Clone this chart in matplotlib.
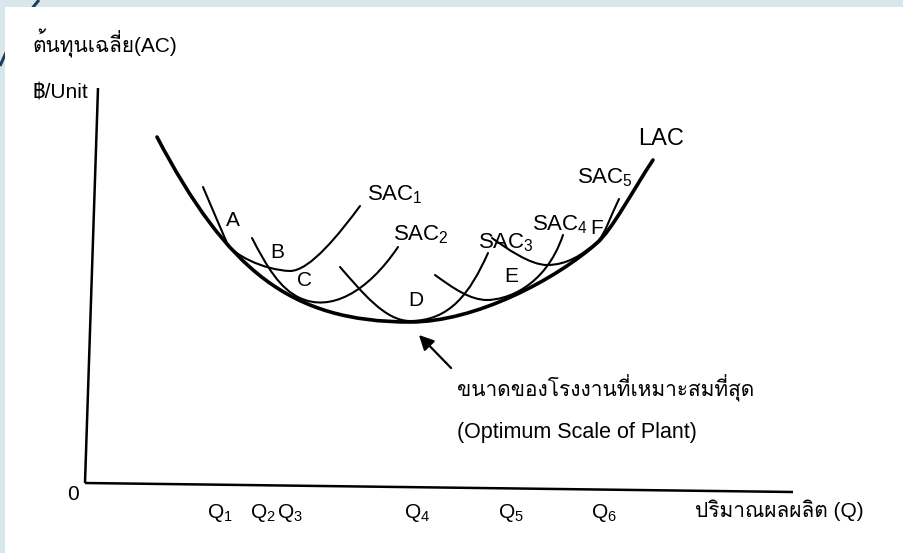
import matplotlib
matplotlib.use('Agg')
import matplotlib.pyplot as plt
from matplotlib.path import Path
from matplotlib.patches import PathPatch, Rectangle
from matplotlib.transforms import Affine2D
from matplotlib import font_manager

installed = {fe.name for fe in font_manager.fontManager.ttflist}
THAI = next((f for f in ['Loma', 'Sarabun', 'Noto Sans Thai Looped'] if f in installed), 'DejaVu Sans')
FAM = ['Liberation Sans', THAI, 'DejaVu Sans']
plt.rcParams['font.family'] = FAM
plt.rcParams['mathtext.fontset'] = 'custom'
plt.rcParams['mathtext.rm'] = 'Liberation Sans'
plt.rcParams['mathtext.it'] = 'Liberation Sans'

# ---------------- data (quantity, cost) : cubic Bezier vertices
lac_q = [72, 142, 205, 325, 390, 470, 512, 527, 548, 568]
lac_c = [346, 213, 161, 161, 161, 203, 240, 253, 293, 323]

sac1_q = [118, 126, 136, 142, 147, 178, 205, 225, 255, 275]
sac1_c = [296, 277, 254, 240, 229, 213, 212, 212, 250, 277]

sac2_q = [167, 182, 195, 215, 245, 282, 313]
sac2_c = [245, 216, 194, 185, 171, 190, 236]

sac3_q = [255, 277, 300, 325, 365, 385, 403]
sac3_c = [216, 191, 162, 162, 162, 190, 230]

sac4_q = [350, 368, 385, 402, 420, 460, 478]
sac4_c = [208, 195, 183, 183, 183, 195, 248]

sac5_q = [407, 421, 445, 462, 482, 497, 512, 520, 526, 534]
sac5_c = [245, 235, 218, 218, 218, 228, 241, 248, 268, 284]

curve_names = ['SAC$_1$', 'SAC$_2$', 'SAC$_3$', 'SAC$_4$', 'SAC$_5$']
curve_label_q = [282, 308, 393, 447, 492]
curve_label_c = [283, 243, 235, 253, 300]

point_names = ['A', 'B', 'C', 'D', 'E', 'F']
point_q = [148, 192, 220, 331, 426, 512]
point_c = [263, 231, 203, 183, 207, 255]

q_tick_labels = ['Q$_1$', 'Q$_2$', 'Q$_3$', 'Q$_4$', 'Q$_5$', 'Q$_6$']
q_tick_pos = [135, 178, 205, 332, 426, 519]

axis_q_max = 708
axis_c_max = 395

# ---------------- figure
fig = plt.figure(figsize=(9.04, 5.53), dpi=100)
fig.patch.set_facecolor('#d9e6ec')
deco = Path([(39 / 904, 1), (18 / 904, 1 - 24 / 553), (0, 1 - 66 / 553)],
            [Path.MOVETO, Path.CURVE3, Path.CURVE3])
fig.add_artist(PathPatch(deco, transform=fig.transFigure, facecolor='none',
                         edgecolor='#1d3d5e', lw=2.2, zorder=-3))
fig.add_artist(Rectangle((5 / 904, 0), 1, 1 - 7 / 553, transform=fig.transFigure,
                         facecolor='white', edgecolor='none', zorder=-2))

ax = fig.add_axes([0, 0, 1, 1])
ax.patch.set_alpha(0)
ax.set_xlim(-85, 819)
ax.set_ylim(-70, 483)
for s in ax.spines.values():
    s.set_visible(False)
ax.set_xticks([])
ax.set_yticks([])

# slight scan tilt of the printed axes
tilt = Affine2D([[1, 13 / 395, 0], [-9 / 708, 1, 0], [0, 0, 1]]) + ax.transData
ax.plot([0, axis_q_max], [0, 0], color='black', lw=1.8, transform=tilt, solid_capstyle='butt')
ax.plot([0, 0], [0, axis_c_max], color='black', lw=1.8, transform=tilt, solid_capstyle='butt')


def bez(q, c, lw):
    verts = list(zip(q, c))
    codes = [Path.MOVETO] + [Path.CURVE4] * (len(verts) - 1)
    ax.add_patch(PathPatch(Path(verts, codes), facecolor='none', edgecolor='black',
                           lw=lw, capstyle='round', joinstyle='round'))


bez(lac_q, lac_c, 2.6)
for q, c in [(sac1_q, sac1_c), (sac2_q, sac2_c), (sac3_q, sac3_c), (sac4_q, sac4_c), (sac5_q, sac5_c)]:
    bez(q, c, 1.5)

for name, q, c in zip(curve_names, curve_label_q, curve_label_c):
    ax.text(q, c, name, fontsize=16, ha='left', va='baseline')
ax.text(553, 338, 'LAC', fontsize=17, ha='left', va='baseline')

for name, q, c in zip(point_names, point_q, point_c):
    ax.text(q, c, name, fontsize=15, ha='center', va='center')

for lab, q in zip(q_tick_labels, q_tick_pos):
    ax.text(q, -30, lab, fontsize=15, ha='center', va='center')

ax.text(-12, -12, '0', fontsize=15, ha='center', va='center')
ax.text(-52, 430, 'ต้นทุนเฉลี่ย(AC)', fontsize=15, ha='left', va='baseline')
ax.text(-52, 385, '฿/Unit', fontsize=15, ha='left', va='baseline')
ax.text(610, -27, 'ปริมาณผลผลิต (Q)', fontsize=15, ha='left', va='center')

ax.annotate('', xy=(332, 150), xytext=(368, 113),
            arrowprops=dict(arrowstyle='-|>', color='black', lw=1.6, mutation_scale=22))
ax.text(372, 86, 'ขนาดของโรงงานที่เหมาะสมที่สุด', fontsize=15, ha='left', va='baseline')
ax.text(372, 45, '(Optimum Scale of Plant)', fontsize=15.5, ha='left', va='baseline')

fig.savefig('out.png', dpi=100, facecolor=fig.get_facecolor())
